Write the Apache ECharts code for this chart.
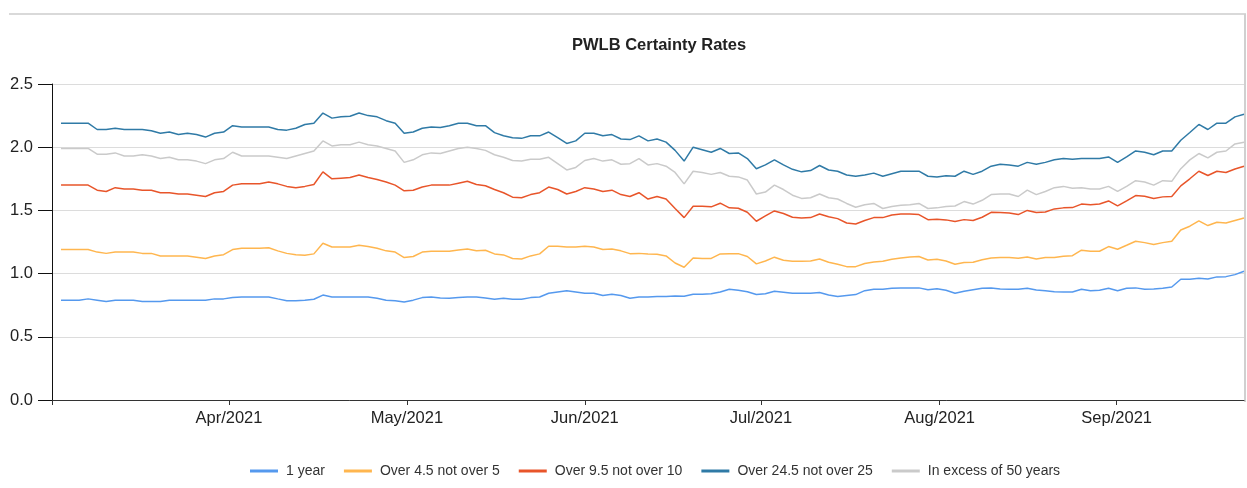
<!DOCTYPE html>
<html>
<head>
<meta charset="utf-8">
<title>PWLB Certainty Rates</title>
<script src="https://cdn.jsdelivr.net/npm/echarts@6/dist/echarts.min.js"></script>
<style>
  html, body { margin: 0; padding: 0; background: #fff; }
  #chart { width: 1247px; height: 488px; }
</style>
</head>
<body>
<div id="chart"></div>
<script>
// rates, one value per published day (index 1..132)
const oneYear = [
  0.79, 0.79, 0.79, 0.80, 0.79, 0.78, 0.79, 0.79, 0.79, 0.78, 0.78, 0.78, 0.79, 0.79, 0.79, 0.79, 0.79, 0.80, 0.80, 0.81, 0.815, 0.815,
  0.815, 0.815, 0.80, 0.786, 0.786, 0.79, 0.797, 0.83, 0.815, 0.815, 0.815, 0.815, 0.815, 0.805, 0.79, 0.786, 0.776, 0.79, 0.81, 0.815, 0.807, 0.805,
  0.81, 0.815, 0.815, 0.807, 0.797, 0.805, 0.797, 0.797, 0.81, 0.815, 0.844, 0.855, 0.865, 0.855, 0.844, 0.844, 0.826, 0.836, 0.826, 0.805, 0.815, 0.815,
  0.818, 0.818, 0.823, 0.82, 0.836, 0.836, 0.84, 0.855, 0.876, 0.868, 0.857, 0.834, 0.84, 0.86, 0.852, 0.844, 0.844, 0.844, 0.85, 0.83, 0.818, 0.826,
  0.834, 0.865, 0.876, 0.876, 0.884, 0.887, 0.887, 0.887, 0.873, 0.88, 0.868, 0.844, 0.86, 0.873, 0.884, 0.887, 0.878, 0.876, 0.876, 0.884, 0.87, 0.865,
  0.857, 0.855, 0.855, 0.876, 0.865, 0.868, 0.884, 0.865, 0.884, 0.887, 0.876, 0.878, 0.884, 0.894, 0.955, 0.955, 0.963, 0.958, 0.974, 0.976, 0.992, 1.018
];
const over4p5 = [
  1.19, 1.19, 1.19, 1.19, 1.17, 1.16, 1.17, 1.17, 1.17, 1.16, 1.16, 1.14, 1.14, 1.14, 1.14, 1.13, 1.12, 1.14, 1.15, 1.19, 1.20, 1.20,
  1.20, 1.205, 1.18, 1.16, 1.15, 1.145, 1.156, 1.24, 1.21, 1.21, 1.21, 1.225, 1.215, 1.20, 1.18, 1.17, 1.127, 1.135, 1.17, 1.177, 1.177, 1.177,
  1.187, 1.195, 1.18, 1.185, 1.156, 1.148, 1.12, 1.116, 1.14, 1.156, 1.216, 1.216, 1.21, 1.21, 1.216, 1.21, 1.19, 1.195, 1.18, 1.158, 1.16, 1.156,
  1.153, 1.14, 1.084, 1.05, 1.124, 1.12, 1.12, 1.156, 1.158, 1.158, 1.135, 1.077, 1.10, 1.13, 1.105, 1.098, 1.098, 1.10, 1.116, 1.09, 1.074, 1.055,
  1.055, 1.08, 1.092, 1.098, 1.113, 1.124, 1.132, 1.135, 1.108, 1.113, 1.10, 1.074, 1.087, 1.09, 1.11, 1.124, 1.127, 1.127, 1.121, 1.132, 1.116, 1.127,
  1.127, 1.137, 1.142, 1.185, 1.177, 1.177, 1.214, 1.193, 1.224, 1.256, 1.245, 1.23, 1.245, 1.256, 1.345, 1.375, 1.417, 1.38, 1.406, 1.40, 1.42, 1.44
];
const over9p5 = [
  1.70, 1.70, 1.70, 1.70, 1.66, 1.65, 1.68, 1.67, 1.67, 1.66, 1.66, 1.64, 1.64, 1.63, 1.63, 1.62, 1.61, 1.64, 1.65, 1.70, 1.71, 1.71,
  1.71, 1.725, 1.71, 1.69, 1.68, 1.69, 1.705, 1.805, 1.75, 1.755, 1.76, 1.78, 1.76, 1.745, 1.725, 1.70, 1.655, 1.66, 1.685, 1.70, 1.70, 1.70,
  1.715, 1.73, 1.705, 1.695, 1.665, 1.64, 1.605, 1.60, 1.625, 1.64, 1.685, 1.665, 1.63, 1.65, 1.68, 1.67, 1.65, 1.66, 1.625, 1.61, 1.64, 1.59,
  1.61, 1.59, 1.515, 1.443, 1.533, 1.533, 1.528, 1.557, 1.52, 1.517, 1.485, 1.414, 1.456, 1.496, 1.475, 1.446, 1.44, 1.443, 1.472, 1.45, 1.435, 1.40,
  1.393, 1.42, 1.443, 1.443, 1.464, 1.472, 1.472, 1.467, 1.427, 1.43, 1.425, 1.412, 1.427, 1.42, 1.446, 1.485, 1.483, 1.48, 1.467, 1.50, 1.483, 1.488,
  1.512, 1.52, 1.522, 1.55, 1.544, 1.55, 1.575, 1.536, 1.575, 1.617, 1.612, 1.594, 1.607, 1.61, 1.694, 1.75, 1.81, 1.776, 1.81, 1.80, 1.828, 1.85
];
const over24p5 = [
  2.19, 2.19, 2.19, 2.19, 2.14, 2.14, 2.15, 2.14, 2.14, 2.14, 2.13, 2.11, 2.12, 2.10, 2.11, 2.10, 2.08, 2.11, 2.12, 2.17, 2.16, 2.16,
  2.16, 2.16, 2.14, 2.135, 2.15, 2.18, 2.19, 2.27, 2.23, 2.24, 2.245, 2.27, 2.25, 2.24, 2.21, 2.19, 2.11, 2.12, 2.15, 2.16, 2.155, 2.17,
  2.19, 2.19, 2.17, 2.17, 2.115, 2.09, 2.075, 2.07, 2.09, 2.09, 2.12, 2.075, 2.03, 2.05, 2.11, 2.11, 2.09, 2.10, 2.065, 2.06, 2.09, 2.05,
  2.065, 2.04, 1.975, 1.89, 2.00, 1.98, 1.96, 1.99, 1.95, 1.955, 1.91, 1.83, 1.86, 1.90, 1.86, 1.825, 1.805, 1.815, 1.855, 1.82, 1.81, 1.78,
  1.77, 1.78, 1.795, 1.77, 1.79, 1.81, 1.81, 1.81, 1.77, 1.765, 1.775, 1.77, 1.81, 1.785, 1.81, 1.85, 1.865, 1.86, 1.85, 1.88, 1.865, 1.88,
  1.90, 1.91, 1.905, 1.91, 1.91, 1.91, 1.923, 1.88, 1.923, 1.97, 1.96, 1.94, 1.97, 1.97, 2.055, 2.116, 2.18, 2.14, 2.19, 2.19, 2.24, 2.26
];
const over50 = [
  1.99, 1.99, 1.99, 1.99, 1.945, 1.945, 1.955, 1.93, 1.93, 1.94, 1.93, 1.91, 1.92, 1.90, 1.90, 1.89, 1.87, 1.90, 1.91, 1.96, 1.93, 1.93,
  1.93, 1.93, 1.92, 1.91, 1.93, 1.95, 1.97, 2.05, 2.01, 2.02, 2.02, 2.04, 2.02, 2.01, 1.99, 1.97, 1.88, 1.90, 1.94, 1.955, 1.95, 1.97,
  1.99, 2.00, 1.99, 1.975, 1.94, 1.92, 1.895, 1.89, 1.905, 1.905, 1.92, 1.87, 1.82, 1.84, 1.895, 1.91, 1.89, 1.90, 1.865, 1.87, 1.91, 1.86,
  1.87, 1.85, 1.80, 1.71, 1.81, 1.80, 1.785, 1.80, 1.77, 1.765, 1.74, 1.63, 1.645, 1.70, 1.665, 1.62, 1.595, 1.60, 1.63, 1.60, 1.59, 1.555,
  1.525, 1.545, 1.555, 1.515, 1.53, 1.54, 1.545, 1.555, 1.515, 1.52, 1.53, 1.535, 1.57, 1.55, 1.58, 1.625, 1.63, 1.63, 1.61, 1.66, 1.625, 1.65,
  1.68, 1.69, 1.675, 1.68, 1.67, 1.67, 1.69, 1.65, 1.69, 1.735, 1.725, 1.70, 1.735, 1.73, 1.83, 1.90, 1.95, 1.915, 1.96, 1.97, 2.026, 2.04
];

const seriesNames = ["1 year", "Over 4.5 not over 5", "Over 9.5 not over 10", "Over 24.5 not over 25", "In excess of 50 years"];
const seriesColors = ["#5599ee", "#ffb64f", "#e8552a", "#2f7aa6", "#cacaca"];

// month boundaries in point-index units, and their labels
const monthTicks = [19.6, 39.3, 59.0, 78.5, 98.3, 117.9];
const monthLabels = ["Apr/2021", "May/2021", "Jun/2021", "Jul/2021", "Aug/2021", "Sep/2021"];

const font = "'Liberation Sans', Arial, sans-serif";

function toPoints(values) {
  return values.map((v, i) => [i + 1, v]);
}

const chart = echarts.init(document.getElementById("chart"));

const option = {
  animation: false,
  title: {
    text: "PWLB Certainty Rates",
    left: 567,
    top: 32,
    textStyle: { fontFamily: font, fontSize: 16.5, fontWeight: "bold", color: "#222" }
  },
  legend: {
    left: 245,
    top: 459,
    icon: "rect",
    itemWidth: 28,
    itemHeight: 3,
    itemGap: 19,
    textStyle: { fontFamily: font, fontSize: 14, color: "#333", padding: [0, 0, 0, 3] },
    data: seriesNames
  },
  grid: {
    left: 52,
    right: 3,
    top: 84,
    bottom: 88
  },
  xAxis: {
    type: "value",
    min: 0,
    max: 132,
    axisLine: { show: true, lineStyle: { color: "#333", width: 1 } },
    axisTick: {
      show: true,
      length: 5,
      lineStyle: { color: "#333" },
      customValues: [0].concat(monthTicks)
    },
    axisLabel: {
      customValues: monthTicks,
      margin: 10,
      fontFamily: font,
      fontSize: 16.5,
      color: "#222",
      formatter: function (v) {
        const k = monthTicks.findIndex(t => Math.abs(t - v) < 0.01);
        return k >= 0 ? monthLabels[k] : "";
      }
    },
    splitLine: { show: false }
  },
  yAxis: {
    type: "value",
    min: 0,
    max: 2.5,
    interval: 0.5,
    axisLine: { show: true, lineStyle: { color: "#111", width: 1 } },
    axisTick: { show: true, length: 14, lineStyle: { color: "#111" } },
    axisLabel: {
      margin: 19,
      fontFamily: font,
      fontSize: 16.5,
      color: "#222",
      formatter: v => v.toFixed(1)
    },
    splitLine: { show: true, lineStyle: { color: "#dcdcdc", width: 1 } }
  },
  graphic: [
    { type: "line", shape: { x1: 9, y1: 14, x2: 1246, y2: 14 }, style: { stroke: "#d9d9d9", lineWidth: 2 }, silent: true },
    { type: "line", shape: { x1: 1245, y1: 14, x2: 1245, y2: 402 }, style: { stroke: "#d0d0d0", lineWidth: 2 }, silent: true }
  ],
  series: [oneYear, over4p5, over9p5, over24p5, over50].map((vals, k) => ({
    name: seriesNames[k],
    type: "line",
    data: toPoints(vals),
    showSymbol: false,
    color: seriesColors[k],
    lineStyle: { width: 1.5, color: seriesColors[k] }
  }))
};

chart.setOption(option);
</script>
</body>
</html>
